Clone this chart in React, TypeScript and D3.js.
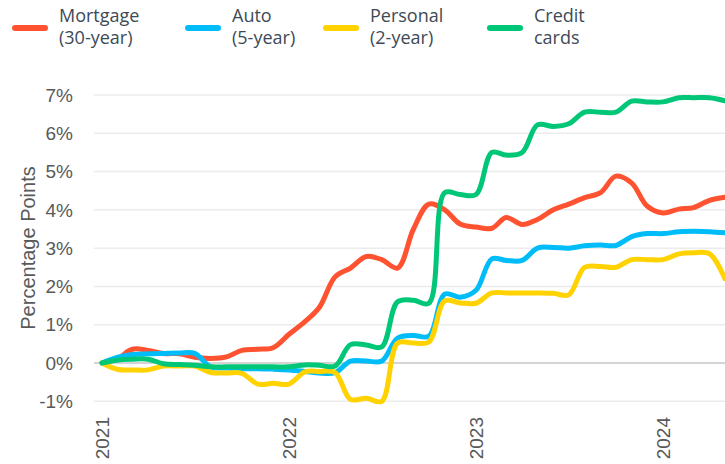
import React from "react";
import * as d3 from "d3";

// ---- Data (monthly, change since Jan 2021, percentage points) ----
const startMonth = new Date(2021, 0, 1);
const seriesNames = ["Mortgage (30-year)", "Auto (5-year)", "Personal (2-year)", "Credit cards"];
const legendLine1 = ["Mortgage", "Auto", "Personal", "Credit"];
const legendLine2 = ["(30-year)", "(5-year)", "(2-year)", "cards"];
const seriesColors = ["#ff5230", "#00bcf8", "#ffd200", "#00c678"];

const mortgage = [
  0.0, 0.12, 0.36, 0.33, 0.25, 0.24, 0.15, 0.12, 0.16, 0.33, 0.36, 0.4,
  0.75, 1.08, 1.45, 2.25, 2.48, 2.78, 2.7, 2.48, 3.5, 4.15, 4.0, 3.63,
  3.55, 3.52, 3.8, 3.62, 3.75, 4.0, 4.15, 4.32, 4.45, 4.88, 4.7, 4.1,
  3.92, 4.02, 4.06, 4.25, 4.33,
];
const auto = [
  0.0, 0.15, 0.22, 0.24, 0.25, 0.26, 0.25, -0.1, -0.13, -0.15, -0.15, -0.16,
  -0.18, -0.22, -0.26, -0.25, 0.05, 0.05, 0.05, 0.65, 0.72, 0.7, 1.8, 1.72,
  1.9, 2.72, 2.68, 2.68, 3.0, 3.02, 3.0, 3.06, 3.08, 3.07, 3.3, 3.38,
  3.38, 3.43, 3.44, 3.43, 3.4,
];
const personal = [
  0.0, -0.17, -0.18, -0.18, -0.08, -0.08, -0.08, -0.25, -0.26, -0.27, -0.55, -0.53,
  -0.55, -0.23, -0.22, -0.25, -0.95, -0.92, -1.0, 0.52, 0.52, 0.55, 1.62, 1.57,
  1.56, 1.83, 1.83, 1.83, 1.83, 1.82, 1.78, 2.5, 2.52, 2.5, 2.7, 2.7,
  2.7, 2.85, 2.88, 2.85, 2.2,
];
const creditCards = [
  0.0, 0.08, 0.1, 0.1, -0.02, -0.04, -0.06, -0.1, -0.1, -0.1, -0.1, -0.1,
  -0.1, -0.05, -0.06, -0.08, 0.48, 0.47, 0.42, 1.6, 1.64, 1.56, 4.45, 4.4,
  4.4, 5.5, 5.43, 5.5, 6.22, 6.18, 6.25, 6.55, 6.55, 6.55, 6.84, 6.82,
  6.82, 6.93, 6.93, 6.93, 6.85,
];
const allSeries = [mortgage, auto, personal, creditCards];

const yTicks = [-1, 0, 1, 2, 3, 4, 5, 6, 7];
const xTickYears = [2021, 2022, 2023, 2024];

// ---- Layout ----
const W = 725;
const H = 464;
const plotLeft = 94;
const xStart = 102;
const pxPerYear = 187;

export default function App() {
  React.useEffect(() => {
    document.body.style.margin = "0";
  }, []);

  const x = d3
    .scaleTime()
    .domain([new Date(2021, 0, 1), new Date(2024, 0, 1)])
    .range([xStart, xStart + pxPerYear * 3]);
  const y = d3.scaleLinear().domain([0, 7]).range([363, 95]);

  const line = d3
    .line<number>()
    .x((_, i) => x(d3.timeMonth.offset(startMonth, i)))
    .y((d) => y(d))
    .curve(d3.curveCatmullRom.alpha(0.5));

  const tickFont = "'Liberation Sans', Arial, sans-serif";
  const legendX = [15, 188, 326, 490];

  return (
    <svg width={W} height={H} style={{ display: "block", background: "#fff" }}>
      {/* gridlines */}
      {yTicks.map((t) => (
        <line
          key={"g" + t}
          x1={plotLeft}
          x2={W}
          y1={y(t)}
          y2={y(t)}
          stroke={t === 0 ? "#d4d4d4" : "#ececec"}
          strokeWidth={t === 0 ? 2 : 1.5}
        />
      ))}
      {/* y tick labels */}
      {yTicks.map((t) => (
        <text
          key={"yl" + t}
          x={73}
          y={y(t)}
          dy="0.35em"
          textAnchor="end"
          fontFamily={tickFont}
          fontSize={19}
          fill="#595959"
        >
          {t + "%"}
        </text>
      ))}
      {/* y title */}
      <text
        transform={`translate(28,${248}) rotate(-90)`}
        textAnchor="middle"
        dy="0.35em"
        fontFamily={tickFont}
        fontSize={20}
        fill="#595959"
      >
        Percentage Points
      </text>
      {/* x tick labels */}
      {xTickYears.map((yr) => (
        <text
          key={"xl" + yr}
          transform={`translate(${x(new Date(yr, 0, 1))},417) rotate(-90)`}
          textAnchor="end"
          dy="0.35em"
          fontFamily={tickFont}
          fontSize={19}
          fill="#595959"
        >
          {yr}
        </text>
      ))}
      {/* lines */}
      {allSeries.map((s, i) => (
        <path
          key={seriesNames[i]}
          d={line(s) || ""}
          fill="none"
          stroke={seriesColors[i]}
          strokeWidth={5}
          strokeLinejoin="round"
          strokeLinecap="round"
        />
      ))}
      {/* legend */}
      {seriesNames.map((name, i) => (
        <g key={"lg" + name} transform={`translate(${legendX[i]},0)`}>
          <line x1={0} x2={30} y1={28} y2={28} stroke={seriesColors[i]} strokeWidth={6} strokeLinecap="round" />
          <text x={44} y={22} fontFamily="'Open Sans', sans-serif" fontSize={18} fill="#3d4a56">
            {legendLine1[i]}
          </text>
          <text x={44} y={44} fontFamily="'Open Sans', sans-serif" fontSize={18} fill="#3d4a56">
            {legendLine2[i]}
          </text>
        </g>
      ))}
    </svg>
  );
}
